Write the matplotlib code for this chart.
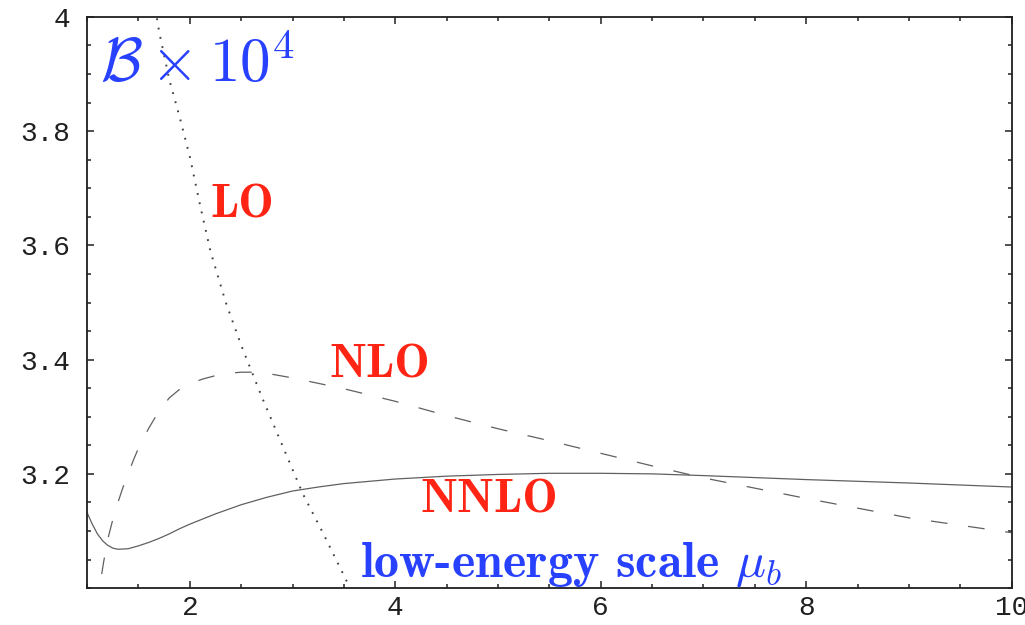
import matplotlib
matplotlib.use("Agg")
import matplotlib.pyplot as plt
from matplotlib.ticker import MultipleLocator, FixedLocator

plt.rcParams['mathtext.fontset'] = 'cm'
plt.rcParams['lines.scale_dashes'] = False

# Data
mu_nnlo = [1.0, 1.05, 1.1, 1.15, 1.2, 1.25, 1.3, 1.4, 1.5, 1.6, 1.7, 1.8, 1.9, 2.0, 2.25, 2.5,
           2.75, 3.0, 3.25, 3.5, 3.75, 4.0, 4.5, 5.0, 5.5, 6.0, 6.5, 7.0, 8.0, 9.0, 10.0]
b_nnlo = [3.132, 3.112, 3.095, 3.083, 3.075, 3.070, 3.068, 3.069, 3.074, 3.080, 3.087, 3.095,
          3.104, 3.112, 3.130, 3.146, 3.159, 3.170, 3.177, 3.183, 3.187, 3.191, 3.196, 3.199,
          3.201, 3.201, 3.200, 3.197, 3.190, 3.184, 3.177]

mu_nlo = [1.08, 1.12, 1.16, 1.2, 1.25, 1.3, 1.35, 1.4, 1.45, 1.5, 1.6, 1.7, 1.8, 1.9, 2.0,
          2.125, 2.25, 2.375, 2.5, 2.625, 2.75, 3.0, 3.5, 4.0, 4.5, 5.0, 5.5, 6.0, 6.5, 7.0,
          7.5, 8.0, 8.5, 9.0, 9.5, 10.0]
b_nlo = [2.96, 3.00, 3.045, 3.085, 3.12, 3.15, 3.177, 3.20, 3.224, 3.245, 3.28, 3.31, 3.333,
         3.348, 3.358, 3.366, 3.372, 3.376, 3.378, 3.378, 3.376, 3.368, 3.349, 3.327, 3.302,
         3.279, 3.258, 3.236, 3.214, 3.193, 3.175, 3.157, 3.140, 3.123, 3.110, 3.097]

mu_lo = [1.65, 1.7, 1.8, 1.9, 2.0, 2.1, 2.2, 2.35, 2.5, 2.7, 2.9, 3.1, 3.3, 3.56, 3.6]
b_lo = [4.03, 3.975, 3.89, 3.825, 3.755, 3.67, 3.59, 3.50, 3.425, 3.335, 3.25, 3.165, 3.095, 3.0, 2.985]

x_ticks = [2, 4, 6, 8, 10]
y_ticks = [3.2, 3.4, 3.6, 3.8, 4.0]
y_tick_labels = ["3.2", "3.4", "3.6", "3.8", "4"]

fig = plt.figure(figsize=(10.25, 6.25), dpi=100)
ax = fig.add_axes([0.085, 0.059, 0.902, 0.914])

line_col = '#606060'
ax.plot(mu_nnlo, b_nnlo, color=line_col, lw=0.9, solid_capstyle='butt')
ax.plot(mu_nlo, b_nlo, color=line_col, lw=0.9, linestyle=(0, (12, 15)))
ax.plot(mu_lo, b_lo, color='#404040', lw=1.4, linestyle=(0, (1.3, 5.5)))

ax.set_xlim(1, 10)
ax.set_ylim(3.0, 4.0)

ax.xaxis.set_major_locator(FixedLocator(x_ticks))
ax.xaxis.set_minor_locator(MultipleLocator(0.5))
ax.yaxis.set_major_locator(FixedLocator(y_ticks))
ax.yaxis.set_minor_locator(MultipleLocator(0.05))
ax.set_yticklabels(y_tick_labels)

ax.tick_params(which='both', direction='in', top=True, right=True, width=1.1, color='#202020')
ax.tick_params(which='major', length=5)
ax.tick_params(which='minor', length=3)
ax.tick_params(axis='x', labelsize=20, pad=5, labelcolor='#202020')
ax.tick_params(axis='y', labelsize=20, pad=12, labelcolor='#202020')
for lab in ax.get_xticklabels() + ax.get_yticklabels():
    lab.set_family('Liberation Mono')

for sp in ax.spines.values():
    sp.set_linewidth(1.3)
    sp.set_color('#202020')

red = '#ff2414'
blue = '#2841ff'
lab_font = ['cmb10', 'DejaVu Serif']
ax.text(1.13, 3.915, r'$\mathcal{B}\times10^4$', color=blue, fontsize=44, va='center', ha='left')
ax.text(2.2, 3.67, 'LO', color=red, fontsize=34, family=lab_font, va='center', ha='left')
ax.text(3.36, 3.39, 'NLO', color=red, fontsize=34, family=lab_font, va='center', ha='left')
ax.text(4.24, 3.154, 'NNLO', color=red, fontsize=34, family=lab_font, va='center', ha='left')
ax.text(3.66, 3.02, r'low-energy scale $\mu_b$', color=blue, fontsize=36, family=lab_font,
        va='baseline', ha='left')

fig.savefig('out.png', dpi=100)
